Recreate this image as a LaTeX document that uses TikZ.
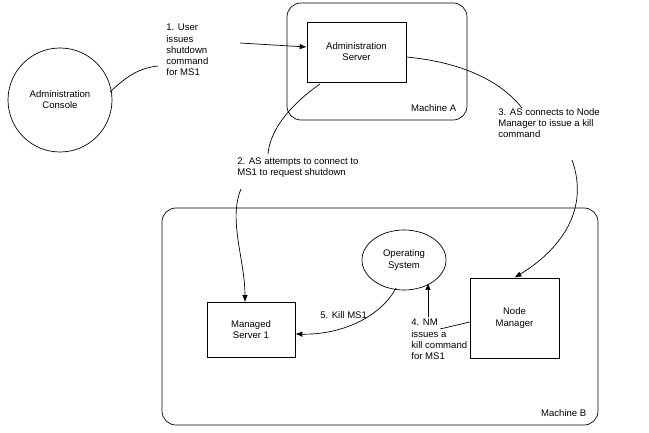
\documentclass[tikz,border=0pt]{standalone}
\usepackage{fontspec}
\setmainfont{Liberation Sans}
\usetikzlibrary{positioning,arrows.meta,shapes.geometric}
\begin{document}
\begin{tikzpicture}[x=1bp,y=-1bp,font=\fontsize{9.6}{11.2}\selectfont,line width=0.7pt,
  box/.style={draw,align=center,inner sep=0pt},
  lbl/.style={align=left,inner sep=0pt,anchor=north west},
  arr/.style={-{Latex[length=7pt,width=5.5pt]}}]
\useasboundingbox (0,0) rectangle (649,433);
% machines
\draw[rounded corners=14pt] (287,3) rectangle (467,120);
\draw[rounded corners=14pt] (162,208) rectangle (598,425);
\node[anchor=south east] (ma) at (460,115) {Machine A};
\node[anchor=south east] (mb) at (590,420) {Machine B};
% nodes
\node[draw,circle,minimum size=104bp,align=center] (con) at (60,100) {Administration\\Console};
\node[box,minimum width=99bp,minimum height=60bp] (as) at (356.5,52) {Administration\\Server};
\node[draw,ellipse,minimum width=84bp,minimum height=60bp,align=center,inner sep=0pt] (os) at (404,260) {Operating\\System};
\node[box,minimum width=88bp,minimum height=55bp] (ms) at (251,330) {Managed\\Server 1};
\node[box,minimum width=89bp,minimum height=80bp] (nm) at (514.5,318) {Node\\Manager};
% labels
\node[lbl] (t1) at (166,24) {1. User\\issues\\shutdown\\command\\for MS1};
\node[lbl] (t2) at (237,157) {2. AS attempts to connect to\\MS1 to request shutdown};
\node[lbl] (t3) at (498,108) {3. AS connects to Node\\Manager to issue a kill\\command};
\node[lbl] (t4) at (411,319) {4. NM\\issues a\\kill command\\for MS1};
\node[lbl] (t5) at (320,311) {5. Kill MS1};
% connectors
\coordinate (c1) at (158,66);
\coordinate (c1b) at (240,43);
\coordinate (c2) at (268,154);
\coordinate (c2b) at (241,189);
\coordinate (c3) at (522,108);
\coordinate (c3b) at (572,160);
\coordinate (c4) at (440,329);
\draw (110,92) .. controls (128,75) and (140,68) .. (c1);
\draw[arr] (c1b) -- (as.west |- 0,47);
\draw (320,84) .. controls (290,105) and (270,130) .. (c2);
\draw[arr] (c2b) .. controls (228,220) and (245,260) .. (ms.north -| 245,0);
\draw (as.east |- 0,57) .. controls (460,62) and (500,80) .. (c3);
\draw[arr] (c3b) .. controls (590,210) and (560,250) .. (nm.north);
\draw (nm.west |- 0,322) -- (c4);
\draw[arr] (428,317) -- (428,283);
\draw[arr] (396,288) .. controls (380,318) and (340,335) .. (ms.east |- 0,334);
\end{tikzpicture}
\end{document}
